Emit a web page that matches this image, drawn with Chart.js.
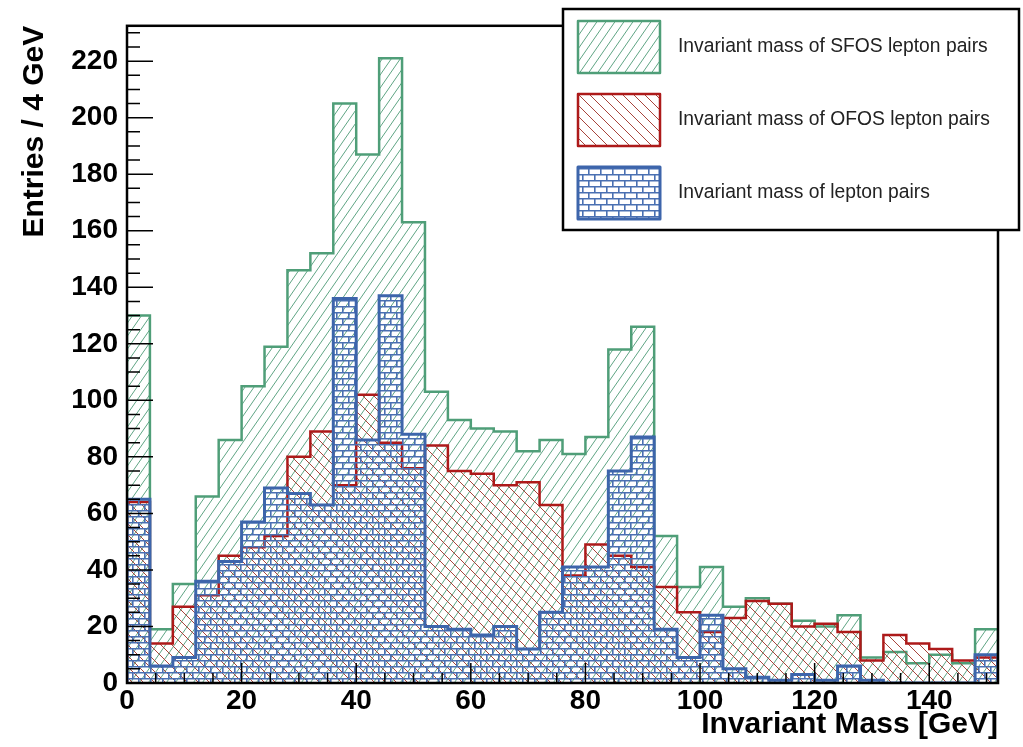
<!DOCTYPE html>
<html>
<head>
<meta charset="utf-8">
<script src="https://cdn.jsdelivr.net/npm/chart.js@4.4.1/dist/chart.umd.min.js"></script>
<style>
  html, body { margin: 0; padding: 0; background: #fff; }
  canvas { display: block; }
</style>
</head>
<body>
<canvas id="massChart" width="1023" height="747"></canvas>
<script>
// lower edge of each 4 GeV bin
var binLow = [0, 4, 8, 12, 16, 20, 24, 28, 32, 36, 40, 44, 48, 52, 56, 60, 64, 68, 72,
              76, 80, 84, 88, 92, 96, 100, 104, 108, 112, 116, 120, 124, 128, 132, 136, 140, 144, 148];
var xMax = 152;
var yMax = 232.5;

var sfosCounts = [130, 19, 35, 66, 86, 105, 119, 146, 152, 205, 187, 221, 163, 103, 93, 90, 89, 82, 86,
                  81, 87, 118, 126, 52, 34, 41, 27, 30, 28, 22, 20, 24, 9, 11, 7, 10, 7, 19];
var ofosCounts = [64, 14, 27, 31, 45, 48, 52, 80, 89, 70, 102, 85, 76, 84, 75, 74, 70, 71, 63,
                  38, 49, 45, 41, 34, 25, 18, 23, 29, 28, 20, 21, 18, 8, 17, 14, 12, 8, 9];
var allCounts  = [65, 6, 9, 36, 43, 57, 69, 67, 63, 136, 86, 137, 88, 20, 19, 17, 20, 12, 25,
                  41, 41, 75, 87, 19, 9, 24, 5, 2, 1, 3, 1, 6, 1, 0, 0, 0, 0, 10];

var xTicks = [0, 20, 40, 60, 80, 100, 120, 140];
var yTicks = [0, 20, 40, 60, 80, 100, 120, 140, 160, 180, 200, 220];

Chart.defaults.font.family = '"Liberation Sans", Arial, sans-serif';

function makeHatch(color, w, h, forward) {
  var c = document.createElement('canvas');
  c.width = w; c.height = h;
  var g = c.getContext('2d');
  g.strokeStyle = color;
  g.lineWidth = 1;
  g.beginPath();
  for (var n = -1; n <= 1; n++) {
    if (forward) { g.moveTo(n * w, h); g.lineTo((n + 1) * w, 0); }
    else { g.moveTo(n * w, 0); g.lineTo((n + 1) * w, h); }
  }
  g.stroke();
  return g.createPattern(c, 'repeat');
}

function makeBrick(color) {
  var c = document.createElement('canvas');
  c.width = 12; c.height = 12;
  var g = c.getContext('2d');
  g.strokeStyle = color;
  g.lineWidth = 1.6;
  g.beginPath();
  g.moveTo(0, 0.8); g.lineTo(12, 0.8);
  g.moveTo(0, 6.8); g.lineTo(12, 6.8);
  g.moveTo(0.8, 0); g.lineTo(0.8, 6.8);
  g.moveTo(6.8, 6.8); g.lineTo(6.8, 12);
  g.stroke();
  return g.createPattern(c, 'repeat');
}

// histogram outline as a stepped line closed down to zero at both ends
function stepPoints(values) {
  var pts = [{x: binLow[0], y: 0}];
  values.forEach(function(v, i) { pts.push({x: binLow[i], y: v}); });
  pts.push({x: xMax, y: values[values.length - 1]});
  pts.push({x: xMax, y: 0});
  return pts;
}

var rootFrame = {
  id: 'rootFrame',
  afterDatasetsDraw: function(chart) {
    var ctx = chart.ctx, a = chart.chartArea;
    var xs = chart.scales.x, ys = chart.scales.y;
    ctx.save();
    ctx.strokeStyle = '#000';
    ctx.lineWidth = 1.5;
    ctx.beginPath();
    for (var v = 0; v <= yMax; v += 5) {
      var y = ys.getPixelForValue(v);
      var len = v % 20 === 0 ? 26 : 13;
      ctx.moveTo(a.left, y); ctx.lineTo(a.left + len, y);
    }
    for (var u = 0; u <= xMax; u += 5) {
      var x = xs.getPixelForValue(u);
      var l2 = u % 20 === 0 ? 20 : 10;
      ctx.moveTo(x, a.bottom); ctx.lineTo(x, a.bottom - l2);
    }
    ctx.stroke();
    ctx.lineWidth = 2.5;
    ctx.strokeRect(a.left, a.top, a.right - a.left, a.bottom - a.top);
    ctx.restore();
  },
  afterDraw: function(chart) {
    var ctx = chart.ctx;
    var bx = 563, by = 9, bw = 456, bh = 221;
    ctx.save();
    ctx.fillStyle = '#fff';
    ctx.fillRect(bx, by, bw, bh);
    ctx.strokeStyle = '#000';
    ctx.lineWidth = 2.5;
    ctx.strokeRect(bx, by, bw, bh);
    var rows = [21, 94, 167];
    chart.data.datasets.forEach(function(ds, i) {
      var sy = rows[i];
      ctx.fillStyle = ds.backgroundColor;
      ctx.fillRect(578, sy, 82, 52);
      ctx.strokeStyle = ds.borderColor;
      ctx.lineWidth = ds.borderWidth;
      ctx.lineJoin = 'round';
      ctx.strokeRect(578, sy, 82, 52);
      ctx.fillStyle = '#222';
      ctx.font = '19.3px "Liberation Sans", Arial, sans-serif';
      ctx.textBaseline = 'middle';
      ctx.textAlign = 'left';
      ctx.fillText(ds.label, 678, sy + 26);
    });
    ctx.restore();
  }
};

var ctx = document.getElementById('massChart').getContext('2d');
new Chart(ctx, {
  type: 'line',
  data: {
    datasets: [{
      label: 'Invariant mass of SFOS lepton pairs',
      data: stepPoints(sfosCounts),
      borderColor: '#4f9e78',
      borderWidth: 2.5,
      backgroundColor: makeHatch('#5fa584', 9, 13, true),
      fill: 'origin',
      order: 3
    }, {
      label: 'Invariant mass of OFOS lepton pairs',
      data: stepPoints(ofosCounts),
      borderColor: '#ad1a1a',
      borderWidth: 2.5,
      backgroundColor: makeHatch('#a8453c', 11, 11, false),
      fill: 'origin',
      order: 2
    }, {
      label: 'Invariant mass of lepton pairs',
      data: stepPoints(allCounts),
      borderColor: '#3d65ab',
      borderWidth: 3,
      backgroundColor: makeBrick('#4a70b2'),
      fill: 'origin',
      order: 1
    }]
  },
  options: {
    responsive: false,
    devicePixelRatio: 1,
    animation: false,
    events: [],
    layout: { padding: { left: 0, top: 25, right: 25, bottom: 4 } },
    elements: {
      line: { stepped: 'before', tension: 0, borderJoinStyle: 'miter' },
      point: { radius: 0, hoverRadius: 0 }
    },
    scales: {
      x: {
        type: 'linear',
        min: 0,
        max: xMax,
        grid: { display: false, drawTicks: false },
        border: { display: false },
        afterFit: function(scale) { scale.height = 60; },
        afterBuildTicks: function(scale) {
          scale.ticks = xTicks.map(function(v) { return {value: v}; });
        },
        ticks: {
          padding: 1,
          color: '#000',
          maxRotation: 0,
          autoSkip: false,
          font: { size: 28, weight: 'bold' }
        },
        title: {
          display: true,
          text: 'Invariant Mass [GeV]',
          align: 'end',
          color: '#000',
          padding: { top: 0, bottom: 0 },
          font: { size: 30, weight: 'bold' }
        }
      },
      y: {
        min: 0,
        max: yMax,
        grid: { display: false, drawTicks: false },
        border: { display: false },
        afterFit: function(scale) { scale.width = 127; },
        afterBuildTicks: function(scale) {
          scale.ticks = yTicks.map(function(v) { return {value: v}; });
        },
        ticks: {
          padding: 9,
          color: '#000',
          autoSkip: false,
          font: { size: 28, weight: 'bold' }
        },
        title: {
          display: true,
          text: 'Entries / 4 GeV',
          align: 'end',
          color: '#000',
          padding: { top: 17, bottom: 0 },
          font: { size: 30, weight: 'bold' }
        }
      }
    },
    plugins: {
      legend: { display: false },
      tooltip: { enabled: false }
    }
  },
  plugins: [rootFrame]
});
</script>
</body>
</html>
